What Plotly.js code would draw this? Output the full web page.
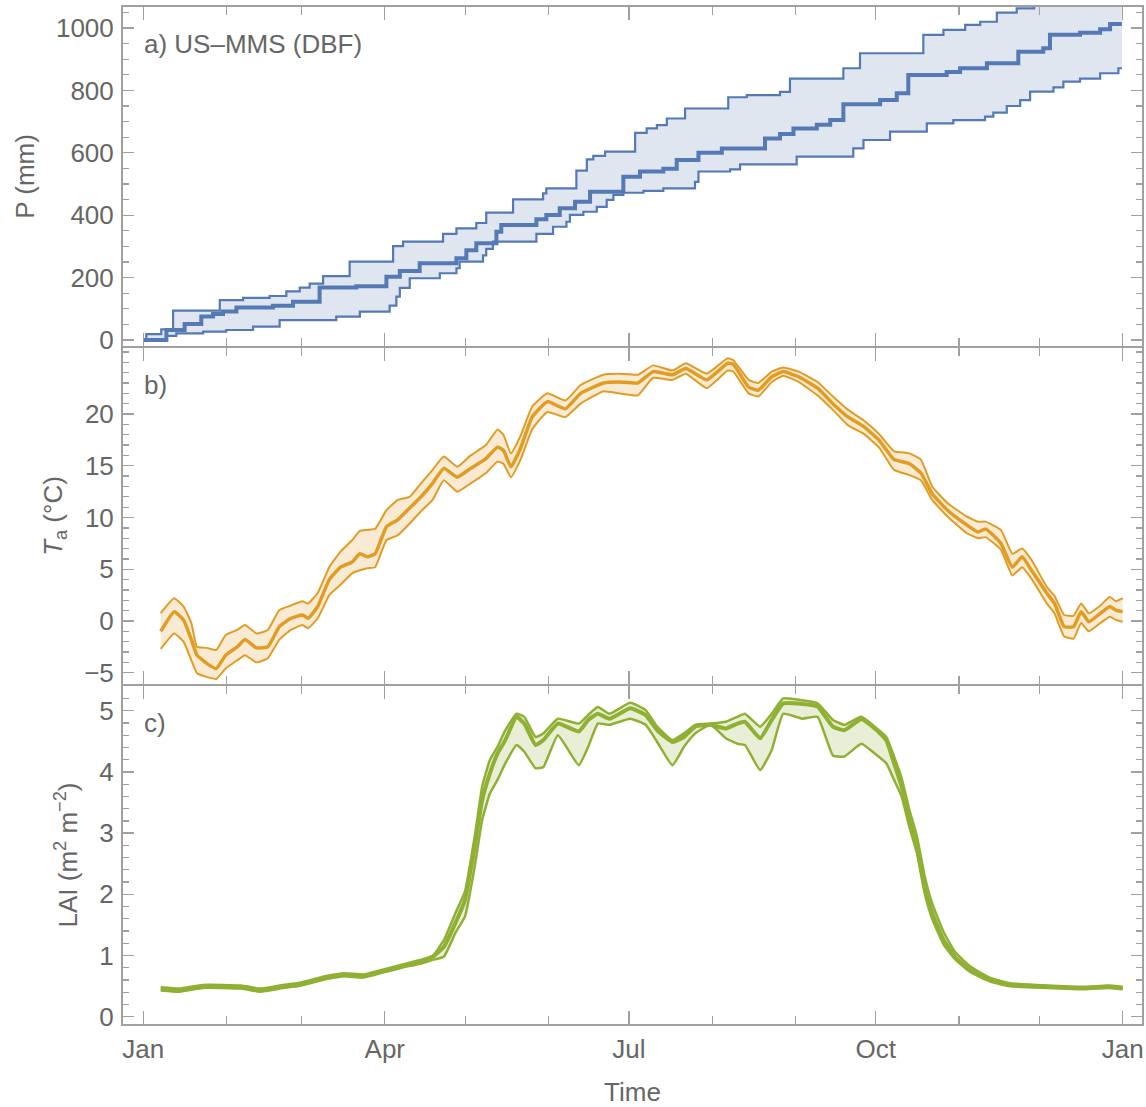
<!DOCTYPE html>
<html><head><meta charset="utf-8">
<script src="https://cdn.plot.ly/plotly-3.0.1.min.js"></script>
<style>html,body{margin:0;padding:0;background:#fff}#chart{width:1146px;height:1107px}</style>
</head><body><div id="chart"></div>
<script>
// ---- x: day of year (0 = 1 Jan) ----
const quarterDays = [0, 90, 181, 273, 365];
const quarterLabels = ['Jan', 'Apr', 'Jul', 'Oct', 'Jan'];
const minorMonthDays = [31, 59, 120, 151, 212, 243, 304, 334];

// ---- a) cumulative precipitation P (mm) ----
const pMedDay = [0,8.6,15.4,21.6,26,29.7,34.7,48.3,55.8,65.7,79.4,90.6,95.6,103,116.7,120.4,124.1,131.6,133.4,146.5,150.2,155.2,160.9,166.5,178.9,185.1,193.8,198.8,206.9,215.6,231.7,237.3,242.3,251,256,260.9,274.6,280.8,285.1,299.4,304.4,314.4,326.1,335.4,337.9,349.1,356.6,360.3,364.7];
const pMed = [0,32,51,75,83,91,104,110,123,168,172,203,221,246,262,288,310,347,369,387,401,422,443,475,523,540,549,577,600,614,646,660,678,690,705,756,769,791,849,859,871,887,924,935,978,985,996,1013,1013];
const pUpDay = [0,1.1,6.7,11.1,28.5,37.2,47.1,53.3,58.3,62,67,76.9,93.1,96.8,111.7,116.7,124.1,127.8,137.8,149,150.2,161.4,165.3,167.7,172.1,183.3,187.6,191.4,195.1,201.9,218,224.9,237.3,241,260.9,267.1,290.7,298.2,306.3,311.9,318.1,325.5,332,345,358,364.7];
const pUp = [0,19,34,94,128,135,141,156,168,181,205,251,301,315,340,358,375,408,451,470,486,543,579,590,604,664,678,689,710,742,778,785,795,838,871,919,978,994,1010,1020,1049,1063,1090,1120,1150,1150];
const pLoDay = [0,8.6,12.3,22.3,30.9,40.9,50.8,71.9,80.7,91.8,94.3,95.6,99.3,110.5,116.7,117.9,126.6,127.8,130.3,146.5,152.7,157.7,159,164,169,172.7,175.2,178.9,186.4,193.8,205.6,206.9,218.7,222.4,243.5,264.6,268.4,278.3,292,301.9,313.7,316.8,321.8,326.8,330.5,339.2,342.9,349.1,356.6,363.4,364.7];
const pLo = [0,13,21,27,32,43,64,75,91,110,139,167,198,214,230,251,271,292,315,340,363,379,401,411,427,449,465,472,478,486,507,540,547,563,588,614,641,668,694,705,716,729,750,769,796,810,828,838,855,871,871];

// ---- b) air temperature Ta (°C) ----
const tDay = [6.5,11.5,15,17.9,20,23.6,27.2,30.7,35,37.9,42.2,46.4,50.7,55,59.3,61.4,65,69.3,73.5,77.8,80.7,83.5,86.4,90.6,94.9,99.2,103.5,107.8,112,117,122,127.7,132,134.2,137,140.6,144.9,150.6,157.3,163,171.5,177.2,184.3,190,197.2,202.2,210,217.8,219.9,225.6,229.2,234.2,238.5,244.2,251.3,257,262.7,268.4,274.1,279.8,285.5,289.8,294,299.7,306.8,311.1,313.9,319.6,323.9,327.5,331,336.7,339.6,343.2,346.7,349.5,352.4,356.7,360.2,362.4,365];
const tMed = [-1.0,0.9,0.1,-1.8,-3.3,-4.1,-4.6,-3.3,-2.5,-1.8,-2.6,-2.5,-0.55,0.26,0.58,0.26,1.4,4.0,5.2,5.7,6.5,6.2,6.5,9.1,9.8,10.9,12.0,13.3,14.75,13.9,14.75,15.7,16.8,16.5,14.9,16.7,19.7,21.2,20.5,22.0,23.0,23.1,23.0,24.1,23.8,24.4,23.3,24.9,24.8,22.6,22.3,23.6,24.1,23.6,22.5,21.0,19.7,18.8,17.5,15.6,15.2,14.3,12.3,10.7,9.3,8.6,8.9,7.5,5.2,6.2,4.9,2.7,1.7,-0.55,-0.55,0.9,-0.07,0.74,1.4,1.06,0.9];
const tUp = [0.77,2.2,1.4,-0.2,-2.5,-2.6,-2.8,-1.35,-0.87,-0.4,-1.2,-0.87,1.06,1.5,1.9,1.7,2.7,5.2,6.7,7.8,8.7,8.8,8.9,10.7,11.7,12.0,13.3,14.6,15.9,14.9,16.0,17.0,18.5,18.0,16.2,17.9,20.7,22.0,21.3,22.8,23.8,23.9,23.8,24.7,24.2,24.9,23.9,25.4,25.2,23.3,23.0,24.1,24.5,24.1,23.1,21.7,20.4,19.4,18.1,16.4,16.2,15.6,13.0,11.4,10.1,9.6,9.6,8.8,6.5,7.0,5.9,3.3,2.4,0.58,0.5,1.7,0.74,1.5,2.35,1.9,2.2];
const tLo = [-2.7,-1.2,-2.0,-3.8,-5.05,-5.4,-5.6,-4.6,-3.8,-3.3,-4.0,-3.6,-1.8,-0.87,-0.4,-0.7,0.26,2.5,3.5,4.6,4.9,5.1,5.2,7.8,8.3,9.4,10.6,11.7,13.6,12.5,13.3,14.3,15.4,15.2,13.9,15.6,18.5,20.2,19.7,21.0,22.2,22.0,21.8,23.5,23.3,23.9,22.5,24.2,24.1,22.0,21.7,23.1,23.7,23.1,21.8,20.4,18.9,18.1,16.8,14.6,14.1,13.6,11.7,10.1,8.5,8.0,8.1,6.9,4.4,5.2,4.1,1.7,0.74,-1.5,-1.7,-0.2,-1.0,-0.2,0.42,0.1,-0.07];
const tTickVals = [-5, 0, 5, 10, 15, 20];

// ---- c) leaf area index LAI (m2 m-2) ----
const laiDay = [6.5,13.6,22.2,36.5,43.6,52.1,57.8,67.8,75,82.1,89.2,96.3,103.5,107.8,112,116.3,119.9,123.5,126.3,129.2,132,134.9,139.1,142,146.2,149.1,154.5,162.3,165.8,169.4,173.7,181.5,187.2,191.5,197.2,201.5,205.7,211.4,217.1,221.4,224.2,229.9,234.2,238.5,245.6,251.3,257,261.2,267.6,272.6,276.9,279.8,282.6,285.5,288.3,291.2,294,298.3,302.5,308.2,315.4,322.5,336.7,351,359.5,365];
const laiMed = [0.45,0.43,0.49,0.48,0.43,0.49,0.52,0.63,0.68,0.66,0.74,0.82,0.90,0.98,1.14,1.53,1.91,2.78,3.54,3.98,4.30,4.52,4.90,4.79,4.44,4.52,4.79,4.66,4.85,4.95,4.87,5.04,4.93,4.68,4.49,4.57,4.74,4.77,4.71,4.79,4.82,4.55,4.85,5.12,5.11,5.07,4.74,4.68,4.86,4.71,4.52,4.14,3.76,3.21,2.78,2.12,1.69,1.25,0.98,0.76,0.60,0.52,0.49,0.47,0.49,0.47];
const laiUp = [0.48,0.46,0.52,0.51,0.46,0.52,0.55,0.66,0.71,0.69,0.77,0.85,0.93,0.99,1.25,1.69,2.05,2.94,3.76,4.2,4.41,4.68,4.95,4.90,4.57,4.63,4.87,4.79,4.93,5.06,4.95,5.13,5.01,4.74,4.52,4.63,4.77,4.79,4.82,4.90,4.95,4.74,4.95,5.2,5.17,5.12,4.85,4.77,4.90,4.74,4.57,4.25,3.9,3.38,2.95,2.3,1.85,1.38,1.06,0.82,0.64,0.55,0.51,0.49,0.51,0.49];
const laiLo = [0.43,0.41,0.47,0.46,0.41,0.47,0.50,0.61,0.66,0.64,0.72,0.80,0.87,0.93,0.98,1.37,1.64,2.45,3.22,3.65,3.87,4.14,4.44,4.33,4.06,4.08,4.6,4.11,4.41,4.79,4.77,4.87,4.77,4.49,4.11,4.41,4.63,4.77,4.55,4.46,4.44,4.03,4.36,4.95,4.87,4.90,4.27,4.25,4.46,4.30,4.14,3.87,3.6,3.1,2.68,2.02,1.6,1.18,0.94,0.73,0.58,0.50,0.47,0.45,0.47,0.45];

// ---- styling ----
const FONT = 'Liberation Sans, Arial, Helvetica, sans-serif';
const TXT = '#666666';
const FRAME = '#a0a0a0';
const BLUE = '#5479b5', BLUE_F = 'rgba(94,129,181,0.2)';
const ORANGE = '#e19c24', ORANGE_F = 'rgba(225,156,36,0.2)';
const GREEN = '#8fb032', GREEN_F = 'rgba(143,176,50,0.2)';

function bandTraces(xl, yl, xu, yu, xm, ym, col, fillCol, xa, ya, shape, wb, wm) {
  const base = {type: 'scatter', mode: 'lines', xaxis: xa, yaxis: ya, hoverinfo: 'skip', showlegend: false};
  const ln = (w) => shape === 'hv' ? {color: col, width: w, shape: 'hv'} : {color: col, width: w, shape: 'spline', smoothing: 0.4};
  return [
    Object.assign({}, base, {x: xl, y: yl, line: ln(wb)}),
    Object.assign({}, base, {x: xu, y: yu, line: ln(wb), fill: 'tonexty', fillcolor: fillCol}),
    Object.assign({}, base, {x: xm, y: ym, line: ln(wm)})
  ];
}

const data = [].concat(
  bandTraces(pLoDay, pLo, pUpDay, pUp, pMedDay, pMed, BLUE, BLUE_F, 'x', 'y', 'hv', 2.2, 4),
  bandTraces(tDay, tLo, tDay, tUp, tDay, tMed, ORANGE, ORANGE_F, 'x2', 'y2', 'spline', 2, 3.5),
  bandTraces(laiDay, laiLo, laiDay, laiUp, laiDay, laiMed, GREEN, GREEN_F, 'x3', 'y3', 'spline', 2.5, 4)
);

const tickFont = {family: FONT, size: 26, color: TXT};
function xAxis(anchor, showLabels) {
  return {
    domain: [0, 1], anchor: anchor, range: [-7.57, 372.2],
    showline: true, linecolor: FRAME, linewidth: 2, mirror: 'ticks',
    ticks: 'inside', ticklen: 13, tickwidth: 1.3, tickcolor: FRAME,
    tickmode: 'array', tickvals: quarterDays, ticktext: quarterLabels,
    showticklabels: showLabels, tickfont: tickFont, ticklabelstandoff: 1,
    showgrid: false, zeroline: false, fixedrange: true,
    minor: {tickmode: 'array', tickvals: minorMonthDays, ticks: 'inside', ticklen: 8, tickwidth: 1.3, tickcolor: FRAME, showgrid: false}
  };
}
function yAxis(anchor, domain, range, tickCfg, minorDtick, title) {
  return Object.assign({
    domain: domain, anchor: anchor, range: range,
    showline: true, linecolor: FRAME, linewidth: 2, mirror: 'ticks',
    ticks: 'inside', ticklen: 11, tickwidth: 1.3, tickcolor: FRAME,
    tickfont: tickFont, ticklabelstandoff: 2,
    showgrid: false, zeroline: false, fixedrange: true,
    minor: {tick0: 0, dtick: minorDtick, ticks: 'inside', ticklen: 6, tickwidth: 1.3, tickcolor: FRAME, showgrid: false},
    title: {text: title, font: {family: FONT, size: 26, color: TXT}, standoff: 14}
  }, tickCfg);
}

const panelLabel = (txt, xref, yref) => ({
  text: txt, xref: xref, yref: yref, x: 0.0186, y: 0.89, xanchor: 'left', yanchor: 'middle',
  showarrow: false, font: {family: FONT, size: 26, color: TXT}
});

const layout = {
  width: 1146, height: 1107,
  margin: {l: 123, r: 4, t: 7, b: 83},
  paper_bgcolor: '#ffffff', plot_bgcolor: '#ffffff',
  showlegend: false,
  xaxis: xAxis('y', false),
  xaxis2: xAxis('y2', false),
  xaxis3: Object.assign(xAxis('y3', true), {title: {text: 'Time', font: {family: FONT, size: 26, color: TXT}, standoff: 20}}),
  yaxis: yAxis('x', [0.66667, 1], [-19.2, 1067.3], {tick0: 0, dtick: 200}, 50, 'P (mm)'),
  yaxis2: yAxis('x2', [0.33432, 0.66470], [-6.09, 26.38], {tickmode: 'array', tickvals: tTickVals}, 1, '<i>T</i><sub>a</sub> (°C)'),
  yaxis3: yAxis('x3', [0, 0.33235], [-0.119, 5.404], {tick0: 0, dtick: 1}, 0.2, 'LAI (m<sup>2</sup> m<sup>−2</sup>)'),
  annotations: [
    panelLabel('a) US–MMS (DBF)', 'x domain', 'y domain'),
    panelLabel('b)', 'x2 domain', 'y2 domain'),
    panelLabel('c)', 'x3 domain', 'y3 domain')
  ]
};

Plotly.newPlot('chart', data, layout, {staticPlot: true, displayModeBar: false});
</script>
</body></html>
